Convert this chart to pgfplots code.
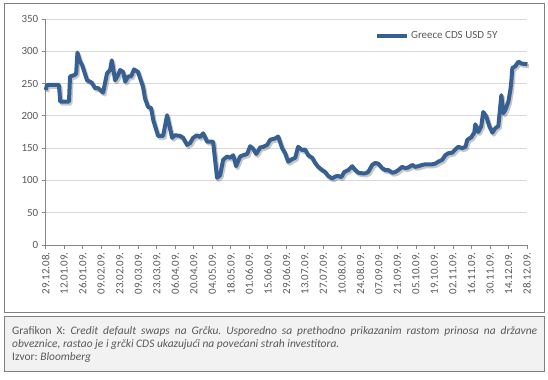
\documentclass[border=0pt]{standalone}
\usepackage{pgfplots}
\pgfplotsset{compat=1.18}
\usepackage{pgfplotstable}
\usepackage{fontspec}
\setmainfont{Carlito}
\definecolor{cdsblue}{RGB}{55,96,146}
\definecolor{txtgray}{RGB}{89,89,89}
\definecolor{axgray}{RGB}{134,134,134}
\definecolor{gridgray}{RGB}{217,217,217}
\definecolor{boxgray}{RGB}{128,128,128}
\definecolor{capfill}{RGB}{242,242,242}
\pgfplotstableread{
day val
0 240
1 248
10 248
11 222
17.6 222
18.4 261
21.4 263
23 265
24 298
26 284
27.5 279
31.3 255
33.5 253
35 251
37.3 243
39.6 243
43.4 236
46.4 266
48.7 271
50 286
52.5 255
54.7 263
56.3 271
58.6 268
60.1 253
62.4 261
64.6 261
66.8 272
69.8 268
73.6 245
75.1 227
77.4 214
79.7 212
81.4 193
85 169
88.8 169
91.8 201
95.6 166
97.8 170
101.6 169
103.9 166
106.9 155
109.2 158
111.5 166
114.5 170
116.8 167
119.1 173
122.1 160
126.6 160
128.1 132
129.6 104
131.9 108
134.2 132
137.2 137
139.5 135
141.8 139
144 122
147 137
149.3 139
152.4 141
154.6 153
156.9 149
159.2 141
162.2 151
164.5 152
167.5 155
169.8 163
173.5 165
175.8 168
178.8 150
181.1 142
183.4 129
186.4 133
188.7 135
190.9 152
194 147
196.2 148
198.5 139
201.6 135
203.8 127
206.1 121
209.1 116
211.4 113
213.6 107
216.7 103
218.9 106
221.2 107
223.5 105
225.8 113
228.8 116
231.8 122
234.1 116
236.4 112
239.4 111
241.7 111
243.9 113
246.9 124
249.2 127
251.5 126
254.5 119
256.8 116
259.1 116
262.1 112
264.4 113
266.6 116
269.6 121
271.9 119
274.2 120
277.2 124
279.5 121
281.7 122
284.8 124
287 125
289.3 125
292.3 125
294.6 126
296.9 129
299.9 132
302.2 139
304.4 142
307.5 143
309.8 148
312 152
315.1 150
317.4 152
318.9 163
321.9 167
324.1 174
324.9 187
327.2 175
329.4 184
330.9 206
333.2 199
335.5 184
337.8 174
340.1 181
342.3 184
344.6 232
346.1 204
347.6 209
349.9 222
351.4 240
352.2 255
352.9 274
355.2 277
357.5 284
359.8 281
364.3 280
}\cdsdata
\begin{document}
\frenchspacing
\begin{tikzpicture}[x=1bp,y=1bp]
\path[use as bounding box] (0,0) rectangle (548,379);
\draw[boxgray, line width=1bp, fill=white] (4,67) rectangle (544,375);
\draw[boxgray, line width=1bp, fill=capfill] (4,8) rectangle (544,63);
\node[anchor=base west, inner sep=0pt, text=txtgray, font=\fontsize{11.5}{13.5}\selectfont] at (12,45)
  {\parbox[t]{525bp}{Grafikon X: \textit{Credit default swaps na Grčku. Usporedno sa prethodno prikazanim rastom prinosa na državne}\linebreak
  \textit{obveznice, rastao je i grčki CDS ukazujući na povećani strah investitora.}\\
  Izvor: \textit{Bloomberg}}};
\begin{axis}[
  at={(45.7bp,134bp)}, anchor=south west,
  scale only axis, width=481.3bp, height=226bp,
  xmin=0, xmax=364, ymin=0, ymax=350,
  axis x line*=bottom, axis y line*=left,
  axis line style={axgray, line width=0.8bp},
  ytick={0,50,...,350},
  xtick={0,14,...,364},
  xticklabels={29.12.08.,12.01.09.,26.01.09.,09.02.09.,23.02.09.,09.03.09.,23.03.09.,06.04.09.,20.04.09.,04.05.09.,18.05.09.,01.06.09.,15.06.09.,29.06.09.,13.07.09.,27.07.09.,10.08.09.,24.08.09.,07.09.09.,21.09.09.,05.10.09.,19.10.09.,02.11.09.,16.11.09.,30.11.09.,14.12.09.,28.12.09.},
  tick align=outside, major tick length=4bp,
  tick style={axgray, line width=0.8bp},
  ymajorgrids, major grid style={gridgray, line width=0.8bp},
  /pgf/number format/assume math mode=true,
  ticklabel style={font=\fontsize{11}{13}\selectfont, text=txtgray},
  xticklabel style={rotate=90, anchor=east},
  legend style={at={(0.685,0.925)}, anchor=west, draw=none, fill=none,
    font=\fontsize{11}{13}\selectfont, text=txtgray, inner sep=0pt},
  legend cell align=left,
  legend image code/.code={\draw[#1, line width=3.5bp] (0bp,0bp) -- (30bp,0bp);},
  clip=false,
]
\addplot[forget plot, black, opacity=0.22, line width=4bp, line join=round, xshift=1.5bp, yshift=-2bp] table[x=day,y=val] {\cdsdata};
\addplot[cdsblue, line width=4bp, line join=round] table[x=day,y=val] {\cdsdata};
\addlegendentry{Greece CDS USD 5Y}
\end{axis}
\end{tikzpicture}
\end{document}
